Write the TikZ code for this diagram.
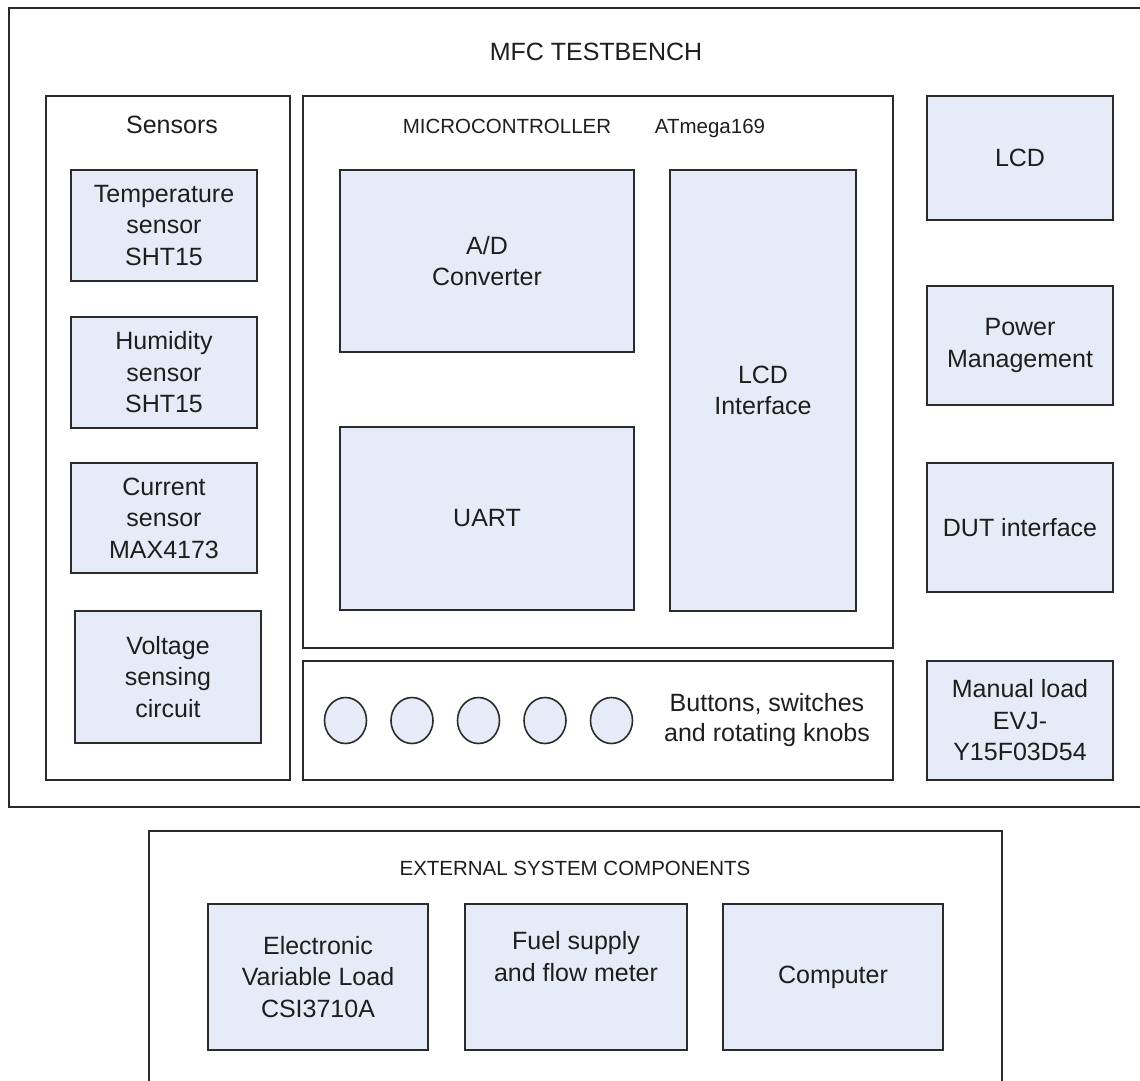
\documentclass[tikz,border=0pt]{standalone}
\usepackage{fontspec}
\setmainfont{Liberation Sans}
\usetikzlibrary{shapes.geometric}
\definecolor{ln}{HTML}{2B2B2B}
\definecolor{bf}{HTML}{E6ECF7}
\definecolor{tx}{HTML}{1E1E1E}
\tikzset{
 frm/.style={draw=ln, line width=1.8pt, fill=white, inner sep=0pt},
 blk/.style={draw=ln, line width=1.8pt, fill=bf, inner sep=0pt, align=center, text=tx, font=\fontsize{25}{31.5}\selectfont},
 hdr/.style={text=tx, inner sep=0pt, font=\fontsize{20.5}{24}\selectfont},
 big/.style={text=tx, inner sep=0pt, align=center, font=\fontsize{25}{30}\selectfont},
 knob/.style={ellipse, draw=ln, line width=1.6pt, fill=bf, minimum width=42pt, minimum height=46pt, inner sep=0pt},
}
\newcommand{\boxat}[7]{\node[#1, minimum width={(#5)-(#3)}, minimum height={(#6)-(#4)}] (#2) at ({((#3)+(#5))/2},{((#4)+(#6))/2}) {#7};}
\begin{document}
\begin{tikzpicture}[x=1pt,y=-1pt]
\useasboundingbox (0,0) rectangle (1140,1080);
\fill[white] (0,0) rectangle (1140,1080);
\clip (0,0) rectangle (1140,1080);
% outer frames (partly cut off)
\draw[ln, line width=1.8pt] (9,8) rectangle (1150,807);
\draw[ln, line width=1.8pt] (149,831) rectangle (1002,1095);
\node[big, anchor=base] (title) at (596,60) {MFC TESTBENCH};
\node[hdr, anchor=base] (exttitle) at (575,875) {EXTERNAL SYSTEM COMPONENTS};
% sensors
\boxat{frm}{sensors}{46}{96}{290}{780}{}
\node[big, anchor=base] (senstitle) at (172,133) {Sensors};
\boxat{blk}{temp}{71}{170}{257}{281}{Temperature\\sensor\\SHT15}
\boxat{blk}{hum}{71}{317}{257}{428}{Humidity\\sensor\\SHT15}
\boxat{blk}{cur}{71}{463}{257}{573}{Current\\sensor\\MAX4173}
\boxat{blk}{volt}{75}{611}{261}{743}{Voltage\\sensing\\circuit}
% microcontroller
\boxat{frm}{micro}{303}{96}{893}{648}{}
\node[hdr, anchor=base] (microtitle) at (507,133) {MICROCONTROLLER};
\node[hdr, anchor=base] (atmega) at (710,133) {ATmega169};
\boxat{blk}{adc}{340}{170}{634}{352}{A/D\\Converter}
\boxat{blk}{uart}{340}{427}{634}{610}{UART}
\boxat{blk}{lcdif}{670}{170}{856}{611}{LCD\\Interface}
% buttons
\boxat{frm}{buttons}{303}{661}{893}{780}{}
\node[knob] (k1) at (345.5,720.5) {};
\node[knob] (k2) at (412,720.5) {};
\node[knob] (k3) at (478.5,720.5) {};
\node[knob] (k4) at (545,720.5) {};
\node[knob] (k5) at (611.5,720.5) {};
\node[big] (btntext) at (767,720) {Buttons, switches\\and rotating knobs};
% right column
\boxat{blk}{lcd}{927}{96}{1113}{220}{LCD}
\boxat{blk}{power}{927}{286}{1113}{405}{Power\\Management}
\boxat{blk}{dut}{927}{463}{1113}{592}{DUT interface}
\boxat{blk}{manual}{927}{661}{1113}{780}{Manual load\\EVJ-\\Y15F03D54}
% external
\boxat{blk}{eload}{208}{904}{428}{1050}{Electronic\\Variable Load\\CSI3710A}
\boxat{blk}{fuel}{465}{904}{687}{1050}{Fuel supply\\and flow meter\\\strut}
\boxat{blk}{comp}{723}{904}{943}{1050}{Computer}
\end{tikzpicture}
\end{document}
